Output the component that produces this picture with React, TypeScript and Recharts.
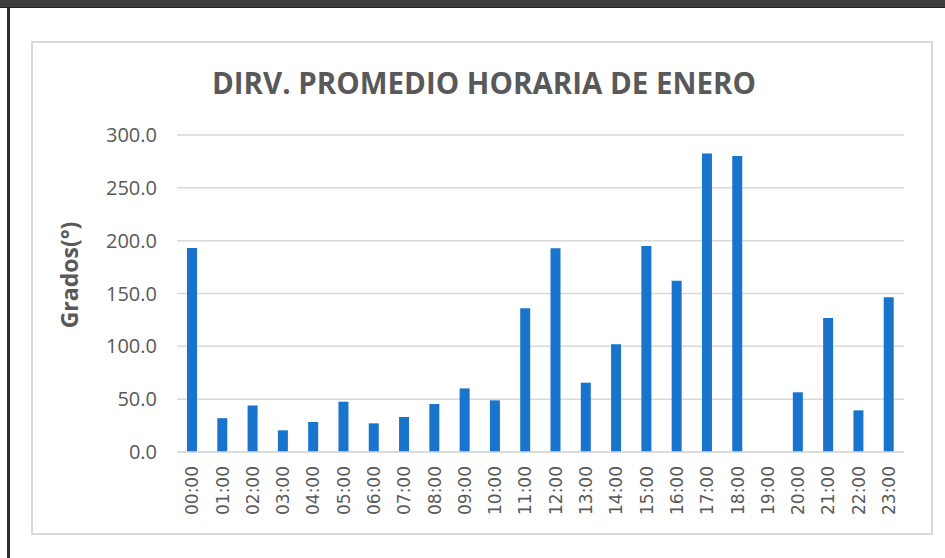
import React from 'react';
import { BarChart, Bar, XAxis, YAxis, CartesianGrid } from 'recharts';

const hours = ['00:00','01:00','02:00','03:00','04:00','05:00','06:00','07:00','08:00','09:00','10:00','11:00','12:00','13:00','14:00','15:00','16:00','17:00','18:00','19:00','20:00','21:00','22:00','23:00'];
const direction = [193, 32, 44, 20.5, 28.4, 47.6, 27.1, 33.1, 45.4, 60.2, 48.9, 136, 192.8, 65.6, 101.9, 195, 162.1, 282.6, 280.1, 0, 56.5, 126.8, 39.4, 146.4];
const yTicks = [0, 50, 100, 150, 200, 250, 300];
const title = 'DIRV. PROMEDIO HORARIA DE ENERO';
const yLabel = 'Grados(°)';

const data = hours.map((h, i) => ({ hour: h, value: direction[i] }));

const XTick = (props: any) => {
  const { x, y, payload } = props;
  return (
    <g transform={`translate(${x},${y + 6})`}>
      <text
        transform="rotate(-90)"
        x={0}
        y={0}
        dy="0.36em"
        textAnchor="end"
        fill="#595959"
        fontFamily="'DejaVu Sans', sans-serif"
        fontSize={17}
      >
        {payload.value}
      </text>
    </g>
  );
};

export default function App() {
  return (
    <div style={{ position: 'absolute', left: 0, top: 0, width: 945, height: 558, background: '#ffffff', overflow: 'hidden' }}>
      <div style={{ position: 'absolute', left: 0, top: 0, width: 945, height: 7, background: '#3d3d3d', borderBottom: '1px solid #222' }} />
      <div style={{ position: 'absolute', left: 7, top: 8, width: 3, height: 550, background: '#2e2e2e' }} />
      <div style={{ position: 'absolute', left: 31, top: 41, width: 898, height: 490, border: '2px solid #d9d9d9' }} />
      <div style={{ position: 'absolute', left: 0, top: 0 }}>
        <BarChart
          width={945}
          height={558}
          data={data}
          margin={{ top: 135, right: 41, bottom: 36, left: 117 }}
          barCategoryGap={0}
        >
          <CartesianGrid vertical={false} stroke="#d9d9d9" strokeWidth={1.5} />
          <XAxis
            dataKey="hour"
            interval={0}
            height={70}
            tick={<XTick />}
            tickLine={false}
            axisLine={{ stroke: '#d9d9d9', strokeWidth: 1.5 }}
          />
          <YAxis
            width={60}
            domain={[0, 300]}
            ticks={yTicks}
            interval={0}
            tickFormatter={(v: number) => v.toFixed(1)}
            tickLine={false}
            axisLine={false}
            tickSize={0}
            tickMargin={20}
            tick={{ fill: '#595959', fontSize: 20, fontFamily: "'Open Sans', sans-serif" }}
          />
          <Bar dataKey="value" fill="#1874cd" barSize={10} isAnimationActive={false} />
        </BarChart>
      </div>
      <svg style={{ position: 'absolute', left: 0, top: 0 }} width={945} height={558}>
        <text x={484} y={94} textAnchor="middle" fill="#595959" fontFamily="'Open Sans', sans-serif" fontWeight={700} fontSize={29.5}>
          {title}
        </text>
        <text
          transform="translate(78,275) rotate(-90)"
          textAnchor="middle"
          fill="#595959"
          fontFamily="'Open Sans', sans-serif"
          fontWeight={700}
          fontSize={23}
        >
          {yLabel}
        </text>
      </svg>
    </div>
  );
}
